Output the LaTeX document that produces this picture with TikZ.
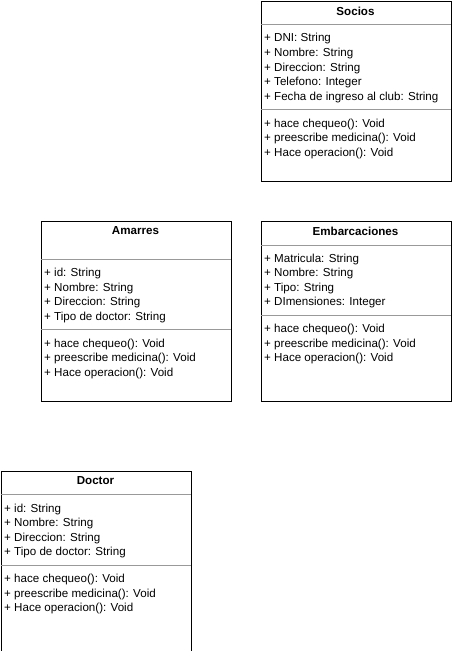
\documentclass[tikz,border=0pt]{standalone}
\usepackage{fontspec}
\setmainfont{Liberation Sans}
\begin{document}
\begin{tikzpicture}[x=1pt,y=-1pt,
  classbox/.style={draw=black,line width=0.8pt,minimum width=190pt,minimum height=180pt,inner sep=0pt,anchor=north west},
  divider/.style={draw=black!40,line width=0.8pt},
  title/.style={font=\fontsize{11.6}{13}\selectfont\bfseries,anchor=center,inner sep=0pt},
  item/.style={font=\fontsize{11.6}{13}\selectfont,anchor=west,inner sep=0pt,yshift=-1pt}]
\useasboundingbox (0,0) rectangle (451,651);
% Socios
\node[classbox] (S) at (260.5,0.5) {};
\node[title] (St) at (355.5,11) {Socios};
\draw[divider] ([yshift=-24]S.north west) -- ([yshift=-24]S.north east);
\node[item] (S1) at (264,37.5) {+ DNI: String};
\node[item] (S2) at (264,52.5) {+ Nombre: String};
\node[item] (S3) at (264,67) {+ Direccion: String};
\node[item] (S4) at (264,81.5) {+ Telefono: Integer};
\node[item] (S5) at (264,96) {+ Fecha de ingreso al club: String};
\draw[divider] ([yshift=-109]S.north west) -- ([yshift=-109]S.north east);
\node[item] (S6) at (264,123) {+ hace chequeo(): Void};
\node[item] (S7) at (264,137.5) {+ preescribe medicina(): Void};
\node[item] (S8) at (264,152) {+ Hace operacion(): Void};
% Amarres
\node[classbox] (A) at (40.5,220.5) {};
\node[title] (At) at (135.5,231) {Amarres};
\draw[divider] ([yshift=-39]A.north west) -- ([yshift=-39]A.north east);
\node[item] (A1) at (44,272.5) {+ id: String};
\node[item] (A2) at (44,287) {+ Nombre: String};
\node[item] (A3) at (44,301.5) {+ Direccion: String};
\node[item] (A4) at (44,316) {+ Tipo de doctor: String};
\draw[divider] ([yshift=-109]A.north west) -- ([yshift=-109]A.north east);
\node[item] (A5) at (44,343) {+ hace chequeo(): Void};
\node[item] (A6) at (44,357.5) {+ preescribe medicina(): Void};
\node[item] (A7) at (44,372) {+ Hace operacion(): Void};
% Embarcaciones
\node[classbox] (E) at (260.5,220.5) {};
\node[title] (Et) at (355.5,231) {Embarcaciones};
\draw[divider] ([yshift=-25]E.north west) -- ([yshift=-25]E.north east);
\node[item] (E1) at (264,258) {+ Matricula: String};
\node[item] (E2) at (264,272.5) {+ Nombre: String};
\node[item] (E3) at (264,287) {+ Tipo: String};
\node[item] (E4) at (264,301.5) {+ DImensiones: Integer};
\draw[divider] ([yshift=-95]E.north west) -- ([yshift=-95]E.north east);
\node[item] (E5) at (264,328.5) {+ hace chequeo(): Void};
\node[item] (E6) at (264,343) {+ preescribe medicina(): Void};
\node[item] (E7) at (264,357.5) {+ Hace operacion(): Void};
% Doctor
\node[classbox] (D) at (0.5,470.5) {};
\node[title] (Dt) at (95.5,481) {Doctor};
\draw[divider] ([yshift=-24]D.north west) -- ([yshift=-24]D.north east);
\node[item] (D1) at (4,508) {+ id: String};
\node[item] (D2) at (4,522.5) {+ Nombre: String};
\node[item] (D3) at (4,537) {+ Direccion: String};
\node[item] (D4) at (4,551.5) {+ Tipo de doctor: String};
\draw[divider] ([yshift=-95]D.north west) -- ([yshift=-95]D.north east);
\node[item] (D5) at (4,578.5) {+ hace chequeo(): Void};
\node[item] (D6) at (4,593) {+ preescribe medicina(): Void};
\node[item] (D7) at (4,607.5) {+ Hace operacion(): Void};
\end{tikzpicture}
\end{document}
